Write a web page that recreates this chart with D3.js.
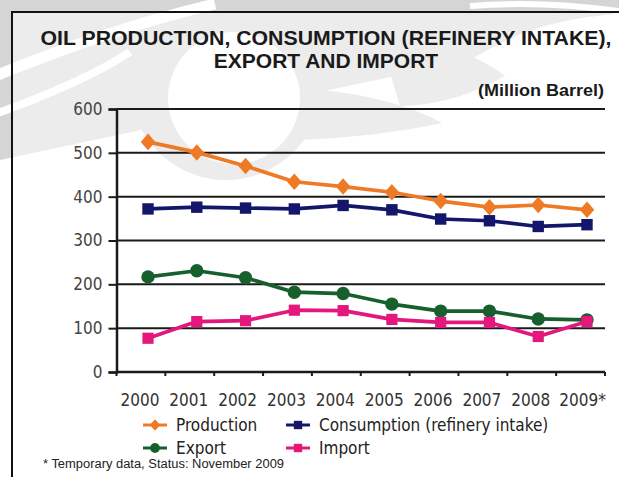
<!DOCTYPE html>
<html>
<head>
<meta charset="utf-8">
<script src="https://cdn.jsdelivr.net/npm/d3@7"></script>
<style>
  html, body { margin: 0; padding: 0; background: #ffffff; }
  svg { display: block; }
  .num { font-family: "DejaVu Sans Condensed", "DejaVu Sans", sans-serif; }
  .head { font-family: "Liberation Sans", Arial, sans-serif; font-weight: bold; }
</style>
</head>
<body>
<svg id="chart" width="619" height="477"></svg>
<script>
// Oil balance, million barrels per year
const years = ["2000", "2001", "2002", "2003", "2004", "2005", "2006", "2007", "2008", "2009"];
const yearLabels = ["2000", "2001", "2002", "2003", "2004", "2005", "2006", "2007", "2008", "2009*"];
const production  = [525, 501, 470, 434, 423, 410, 390, 376, 381, 370];
const consumption = [372, 376, 374, 372, 380, 370, 349, 345, 332, 336];
const exportVals  = [217, 231, 215, 182, 179, 155, 139, 139, 121, 119];
const importVals  = [77, 115, 117, 141, 140, 120, 113, 113, 81, 115];
const yTicks = [0, 100, 200, 300, 400, 500, 600];

const seriesNames  = ["Production", "Consumption (refinery intake)", "Export", "Import"];
const seriesColors = ["#ef7a26", "#13166a", "#17602d", "#e3177c"];

// a wide diamond like the spreadsheet marker (d3's own is narrow)
const wideDiamond = {
  draw(ctx, size) {
    const h = Math.sqrt(size) * 0.6, w = h * 0.88;
    ctx.moveTo(0, -h); ctx.lineTo(w, 0); ctx.lineTo(0, h); ctx.lineTo(-w, 0); ctx.closePath();
  }
};
const seriesShapes = [wideDiamond, d3.symbolSquare, d3.symbolCircle, d3.symbolSquare];
const seriesData   = [production, consumption, exportVals, importVals];

const svg = d3.select("#chart");

// ---- background logo swirl (light grey) ----
const wm = svg.append("g");
wm.append("path")
  .attr("d", "M0,0 L619,0 L619,14 C560,18 520,30 470,60 L0,160 Z")
  .attr("fill", "#d5d5d5");
wm.append("path")
  .attr("d", "M0,0 L230,0 C160,40 90,110 0,160 Z")
  .attr("fill", "#d5d5d5");
// crescent ring
wm.append("circle").attr("cx", 226).attr("cy", 84).attr("r", 96).attr("fill", "#d5d5d5");
wm.append("circle").attr("cx", 234).attr("cy", 98).attr("r", 66).attr("fill", "#ffffff");
// tapered swooshes to the right
wm.append("path")
  .attr("d", "M300,88 C360,92 410,105 442,123 C400,132 350,138 300,140 Z")
  .attr("fill", "#d5d5d5");
wm.append("path")
  .attr("d", "M380,40 C430,40 480,55 505,76 C470,95 440,105 400,106 Z")
  .attr("fill", "#d5d5d5");
// white stripes through the grey
wm.append("path")
  .attr("d", "M-5,76 C60,50 130,24 215,4")
  .attr("fill", "none").attr("stroke", "#ffffff").attr("stroke-width", 11);
wm.append("path")
  .attr("d", "M-5,114 C40,98 90,78 130,52")
  .attr("fill", "none").attr("stroke", "#ffffff").attr("stroke-width", 8);
wm.append("path")
  .attr("d", "M470,6 C520,2 570,4 625,12")
  .attr("fill", "none").attr("stroke", "#ffffff").attr("stroke-width", 6);

// ---- chart panel ----
svg.append("rect")
  .attr("x", 12).attr("y", 12).attr("width", 620).attr("height", 480)
  .attr("fill", "#ffffff").attr("fill-opacity", 0.55)
  .attr("stroke", "#111").attr("stroke-width", 2);

// title
svg.append("text").attr("class", "head")
  .attr("x", 326).attr("y", 45).attr("text-anchor", "middle")
  .attr("font-size", 21).attr("fill", "#1a1a1a")
  .attr("textLength", 571).attr("lengthAdjust", "spacingAndGlyphs")
  .text("OIL PRODUCTION, CONSUMPTION (REFINERY INTAKE),");
svg.append("text").attr("class", "head")
  .attr("x", 326).attr("y", 68).attr("text-anchor", "middle")
  .attr("font-size", 21).attr("fill", "#1a1a1a")
  .text("EXPORT AND IMPORT");
svg.append("text").attr("class", "head")
  .attr("x", 604).attr("y", 96).attr("text-anchor", "end")
  .attr("font-size", 16).attr("fill", "#1a1a1a")
  .attr("textLength", 126).attr("lengthAdjust", "spacingAndGlyphs")
  .text("(Million Barrel)");

// scales
const xBand = d3.scaleBand().domain(years).range([116.5, 605]);
const xPt = d3.scalePoint().domain(years).range([148, 587]);
const y = d3.scaleLinear().domain([0, 600]).range([372, 109]);

// gridlines
svg.append("g").selectAll("line").data(yTicks.filter(v => v > 0)).join("line")
  .attr("x1", 116.5).attr("x2", 605)
  .attr("y1", d => y(d)).attr("y2", d => y(d))
  .attr("stroke", "#1a1a1a").attr("stroke-width", 2);

// y axis
const yAxis = svg.append("g").attr("class", "num")
  .attr("transform", "translate(116.5,0)")
  .call(d3.axisLeft(y).tickValues(yTicks).tickSize(8).tickPadding(6));
yAxis.select(".domain").attr("stroke", "#1a1a1a").attr("stroke-width", 2.5);
yAxis.selectAll(".tick line").attr("stroke", "#1a1a1a").attr("stroke-width", 2);
yAxis.selectAll(".tick text").attr("font-size", 17).attr("fill", "#444")
  .attr("font-family", "DejaVu Sans Condensed, DejaVu Sans, sans-serif");

// x axis: baseline, band-edge ticks, centred year labels
const xg = svg.append("g").attr("class", "num");
xg.append("line")
  .attr("x1", 116.5).attr("x2", 605).attr("y1", y(0)).attr("y2", y(0))
  .attr("stroke", "#1a1a1a").attr("stroke-width", 2.5);
const edges = years.map(d => xBand(d) + xBand.bandwidth()).concat([xBand(years[0])]);
xg.selectAll("line.tk").data(edges).join("line").attr("class", "tk")
  .attr("x1", d => d).attr("x2", d => d)
  .attr("y1", y(0)).attr("y2", y(0) + 4)
  .attr("stroke", "#1a1a1a").attr("stroke-width", 2);
xg.selectAll("text").data(years).join("text")
  .attr("x", (d, i) => xBand(d) + xBand.bandwidth() / 2 - 1 + (i === years.length - 1 ? 3 : 0))
  .attr("y", 406).attr("text-anchor", "middle")
  .attr("font-size", 17).attr("fill", "#333")
  .text((d, i) => yearLabels[i]);

// series lines and markers
const line = d3.line().x((d, i) => xPt(years[i])).y(d => y(d));
const markerSize = [190, 130, 140, 125];
seriesData.forEach((vals, s) => {
  const g = svg.append("g");
  g.append("path").datum(vals)
    .attr("d", line).attr("fill", "none")
    .attr("stroke", seriesColors[s]).attr("stroke-width", 3.7)
    .attr("stroke-linejoin", "round");
  g.selectAll("path.m").data(vals).join("path").attr("class", "m")
    .attr("d", d3.symbol().type(seriesShapes[s]).size(markerSize[s]))
    .attr("transform", (d, i) => `translate(${xPt(years[i])},${y(d)})`)
    .attr("fill", seriesColors[s]);
});

// legend
const legendPos = [[155, 425], [298, 425], [155, 448], [298, 448]];
const legendSize = [95, 70, 75, 70];
const lg = svg.append("g").attr("class", "num");
seriesNames.forEach((name, s) => {
  const [cx, cy] = legendPos[s];
  lg.append("line").attr("x1", cx - 12).attr("x2", cx + 12)
    .attr("y1", cy).attr("y2", cy)
    .attr("stroke", seriesColors[s]).attr("stroke-width", 3);
  lg.append("path")
    .attr("d", d3.symbol().type(seriesShapes[s]).size(legendSize[s])())
    .attr("transform", `translate(${cx},${cy})`)
    .attr("fill", seriesColors[s]);
  lg.append("text").attr("x", cx + 21).attr("y", cy + 6)
    .attr("font-size", 17).attr("fill", "#222")
    .text(name);
});

// footnote
svg.append("text")
  .attr("x", 43).attr("y", 468)
  .attr("font-family", "Liberation Sans, Arial, sans-serif")
  .attr("font-size", 12.5).attr("fill", "#222")
  .attr("textLength", 241).attr("lengthAdjust", "spacingAndGlyphs")
  .text("* Temporary data, Status: November 2009");
</script>
</body>
</html>
